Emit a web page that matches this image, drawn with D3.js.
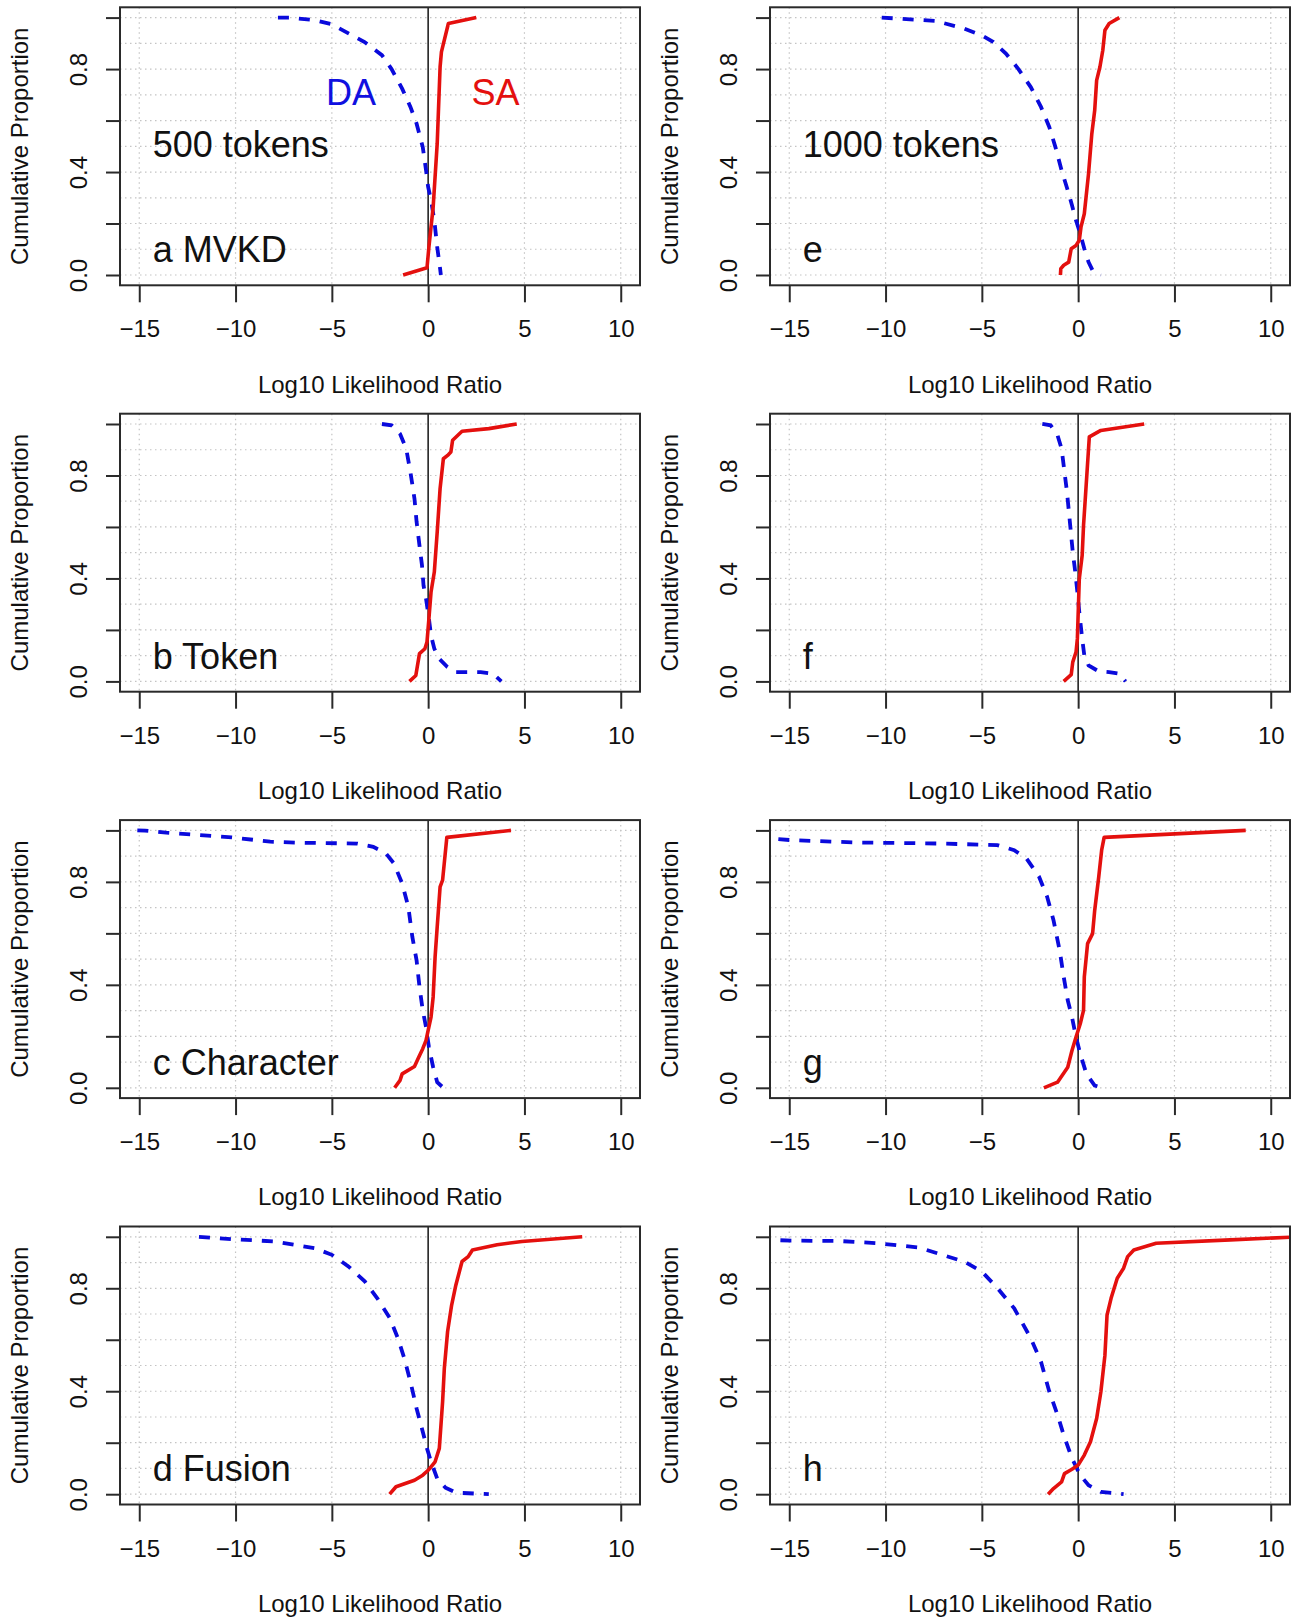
<!DOCTYPE html>
<html>
<head>
<meta charset="utf-8">
<script src="https://cdn.jsdelivr.net/npm/d3@7"></script>
<style>
  body { margin: 0; background: #fff; }
  text { font-family: "Liberation Sans", Arial, Helvetica, sans-serif; fill: #111; }
</style>
</head>
<body>
<svg id="chart" width="1299" height="1620"></svg>
<script>
// axis setup (same for every panel)
const xTicks = [-15, -10, -5, 0, 5, 10];
const yTicks = [0, 0.2, 0.4, 0.6, 0.8, 1.0];
const yTickLabels = ["0.0", "", "0.4", "", "0.8", ""];
const yGrid = [0, 0.1, 0.2, 0.3, 0.4, 0.5, 0.6, 0.7, 0.8, 0.9, 1.0];
const xTitle = "Log10 Likelihood Ratio";
const yTitle = "Cumulative Proportion";

// panel labels, column by column
const panelLabels = ["a MVKD", "b Token", "c Character", "d Fusion", "e", "f", "g", "h"];
const columnTitles = ["500 tokens", "1000 tokens"];

// [log10 LR, cumulative proportion]
// DA = different-author (blue dashed), SA = same-author (red)
const mvkd500DA = [[-7.8,1.0],[-7.2,1.0],[-5.9,0.99],[-5.0,0.974],[-3.3,0.905],[-2.4,0.854],[-1.9,0.8],[-1.35,0.724],[-0.92,0.653],[-0.6,0.588],[-0.28,0.497],[-0.11,0.407],[0,0.342],[0.15,0.29],[0.32,0.212],[0.47,0.109],[0.62,0.025],[0.66,0.0]];
const mvkd500SA = [[-1.3,0.0],[-0.06,0.028],[0.04,0.109],[0.26,0.264],[0.47,0.51],[0.62,0.808],[0.69,0.867],[1.05,0.977],[2.5,1.0]];

const token500DA = [[-2.4,1.0],[-1.9,0.995],[-1.46,0.962],[-1.14,0.904],[-0.92,0.813],[-0.71,0.71],[-0.6,0.62],[-0.45,0.528],[-0.32,0.451],[-0.24,0.373],[-0.11,0.321],[0.04,0.244],[0.15,0.179],[0.32,0.127],[0.58,0.088],[1.0,0.056],[1.44,0.036],[2.73,0.036],[3.37,0.03],[3.8,0.0]];
const token500SA = [[-0.97,0.0],[-0.64,0.023],[-0.45,0.108],[-0.17,0.127],[-0.06,0.153],[0.04,0.244],[0.15,0.347],[0.32,0.425],[0.47,0.58],[0.62,0.749],[0.79,0.865],[1.01,0.878],[1.18,0.891],[1.27,0.937],[1.76,0.972],[3.15,0.982],[4.6,1.0]];

const char500DA = [[-15.1,1.0],[-14.7,0.999],[-13.6,0.991],[-11.9,0.982],[-10.2,0.973],[-8.2,0.956],[-6.7,0.952],[-3.7,0.949],[-2.85,0.936],[-2.2,0.911],[-1.78,0.872],[-1.35,0.794],[-1.03,0.703],[-0.82,0.586],[-0.6,0.495],[-0.45,0.392],[-0.28,0.301],[-0.11,0.236],[0.04,0.158],[0.26,0.08],[0.47,0.022],[0.79,0.0]];
const char500SA = [[-1.74,0.0],[-1.46,0.029],[-1.35,0.054],[-0.71,0.083],[-0.49,0.119],[-0.28,0.152],[-0.11,0.184],[0,0.223],[0.15,0.275],[0.26,0.353],[0.36,0.508],[0.47,0.625],[0.62,0.781],[0.75,0.807],[0.97,0.973],[4.3,1.0]];

const fusion500DA = [[-11.9,1.0],[-10.2,0.991],[-8.0,0.982],[-5.9,0.956],[-5.0,0.93],[-4.14,0.885],[-3.28,0.826],[-2.64,0.761],[-1.99,0.684],[-1.57,0.606],[-1.24,0.528],[-0.92,0.437],[-0.6,0.333],[-0.28,0.243],[-0.06,0.178],[0.15,0.126],[0.47,0.061],[0.9,0.025],[1.44,0.006],[3.15,0.0]];
const fusion500SA = [[-2.0,0.0],[-1.67,0.029],[-0.71,0.054],[-0.28,0.074],[0,0.093],[0.36,0.126],[0.58,0.178],[0.75,0.359],[0.84,0.489],[1.01,0.632],[1.22,0.735],[1.44,0.813],[1.76,0.904],[2.08,0.923],[2.3,0.949],[3.58,0.969],[4.87,0.982],[8.0,1.0]];

const mvkd1000DA = [[-10.2,1.0],[-9.3,0.996],[-8.5,0.992],[-7.4,0.987],[-5.9,0.957],[-5.0,0.931],[-4.4,0.905],[-3.75,0.86],[-3.1,0.8],[-2.46,0.73],[-1.93,0.653],[-1.5,0.575],[-1.18,0.497],[-0.86,0.407],[-0.54,0.329],[-0.32,0.271],[-0.11,0.212],[0.11,0.161],[0.32,0.102],[0.54,0.05],[0.75,0.018],[1.18,0.0]];
const mvkd1000SA = [[-0.92,0.0],[-0.9,0.025],[-0.75,0.038],[-0.49,0.05],[-0.36,0.102],[-0.11,0.115],[0.06,0.135],[0.15,0.187],[0.32,0.238],[0.54,0.394],[0.71,0.549],[0.86,0.64],[0.96,0.756],[1.13,0.808],[1.28,0.873],[1.39,0.951],[1.61,0.977],[2.14,1.0]];

const token1000DA = [[-1.86,1.0],[-1.43,0.995],[-1.07,0.956],[-0.86,0.904],[-0.58,0.736],[-0.43,0.62],[-0.28,0.503],[-0.15,0.425],[-0.04,0.347],[0.06,0.269],[0.21,0.166],[0.32,0.101],[0.54,0.062],[1.07,0.039],[1.61,0.036],[2.14,0.03],[2.46,0.0]];
const token1000SA = [[-0.75,0.0],[-0.36,0.026],[-0.28,0.075],[-0.11,0.114],[-0.04,0.166],[0.06,0.399],[0.21,0.49],[0.28,0.606],[0.58,0.95],[1.18,0.975],[3.43,1.0]];

const char1000DA = [[-21,1.0],[-16,0.969],[-14.9,0.962],[-11.5,0.953],[-7.2,0.949],[-4.2,0.943],[-3.32,0.923],[-2.68,0.891],[-2.03,0.82],[-1.61,0.742],[-1.28,0.651],[-0.96,0.534],[-0.75,0.431],[-0.54,0.34],[-0.32,0.275],[-0.11,0.197],[0.11,0.132],[0.43,0.054],[0.86,0.009],[1.28,0.0]];
const char1000SA = [[-1.78,0.0],[-1.07,0.022],[-0.54,0.08],[-0.32,0.145],[-0.11,0.197],[0.11,0.249],[0.28,0.301],[0.32,0.431],[0.49,0.56],[0.75,0.599],[0.86,0.69],[1.07,0.82],[1.22,0.923],[1.35,0.973],[8.7,1.0]];

const fusion1000DA = [[-22,1.0],[-16,0.988],[-14.9,0.985],[-12.5,0.984],[-10.4,0.975],[-8.25,0.958],[-5.9,0.903],[-5.0,0.865],[-4.18,0.8],[-3.32,0.722],[-2.46,0.606],[-1.93,0.515],[-1.5,0.399],[-1.07,0.308],[-0.75,0.23],[-0.32,0.139],[0.11,0.074],[0.54,0.035],[1.18,0.009],[2.36,0.0]];
const fusion1000SA = [[-1.56,0.0],[-1.28,0.022],[-0.86,0.048],[-0.71,0.08],[-0.32,0.097],[0,0.113],[0.32,0.152],[0.64,0.204],[0.96,0.294],[1.18,0.398],[1.39,0.54],[1.5,0.696],[1.71,0.761],[2.03,0.839],[2.36,0.878],[2.57,0.923],[2.89,0.949],[4.05,0.975],[7.9,0.988],[11.5,1.0]];

const panels = [
  { col: 0, row: 0, label: panelLabels[0], title: columnTitles[0], da: mvkd500DA, sa: mvkd500SA, legend: true },
  { col: 0, row: 1, label: panelLabels[1], da: token500DA, sa: token500SA },
  { col: 0, row: 2, label: panelLabels[2], da: char500DA, sa: char500SA },
  { col: 0, row: 3, label: panelLabels[3], da: fusion500DA, sa: fusion500SA },
  { col: 1, row: 0, label: panelLabels[4], title: columnTitles[1], da: mvkd1000DA, sa: mvkd1000SA },
  { col: 1, row: 1, label: panelLabels[5], da: token1000DA, sa: token1000SA },
  { col: 1, row: 2, label: panelLabels[6], da: char1000DA, sa: char1000SA },
  { col: 1, row: 3, label: panelLabels[7], da: fusion1000DA, sa: fusion1000SA }
];

const svg = d3.select("#chart");
const boxW = 520, boxH = 278;
const axisFont = 24, bigFont = 36;

panels.forEach((p, i) => {
  const left = 120 + 650 * p.col;
  const top = 7.3 + 406.4 * p.row;

  const x = d3.scaleLinear().domain([-16, 11]).range([0, boxW]);
  const y = d3.scaleLinear().domain([-0.04, 1.04]).range([boxH, 0]);

  const g = svg.append("g").attr("transform", `translate(${left},${top})`);

  g.append("clipPath").attr("id", "clip" + i)
    .append("rect").attr("width", boxW).attr("height", boxH);

  // dotted grid
  g.selectAll(".vg").data(xTicks.filter(d => d !== 0)).enter().append("line")
    .attr("x1", d => x(d)).attr("x2", d => x(d))
    .attr("y1", 0).attr("y2", boxH)
    .attr("stroke", "#c4c4c4").attr("stroke-width", 1.2).attr("stroke-dasharray", "1.5,3.5");
  g.selectAll(".hg").data(yGrid).enter().append("line")
    .attr("x1", 0).attr("x2", boxW)
    .attr("y1", d => y(d)).attr("y2", d => y(d))
    .attr("stroke", "#c4c4c4").attr("stroke-width", 1.2).attr("stroke-dasharray", "1.5,3.5");

  // zero line
  g.append("line")
    .attr("x1", x(0)).attr("x2", x(0)).attr("y1", 0).attr("y2", boxH)
    .attr("stroke", "#222").attr("stroke-width", 1.6);

  const line = d3.line().x(d => x(d[0])).y(d => y(d[1]));
  const curves = g.append("g").attr("clip-path", `url(#clip${i})`);

  curves.append("path").datum(p.da)
    .attr("d", line).attr("fill", "none")
    .attr("stroke", "#0a0adc").attr("stroke-width", 3.8)
    .attr("stroke-dasharray", "11,10");

  curves.append("path").datum(p.sa)
    .attr("d", line).attr("fill", "none")
    .attr("stroke", "#e4100e").attr("stroke-width", 3.6)
    .attr("stroke-linejoin", "round");

  // box
  g.append("rect").attr("width", boxW).attr("height", boxH)
    .attr("fill", "none").attr("stroke", "#2a2a2a").attr("stroke-width", 2);

  // x axis
  const xAxis = g.append("g").attr("transform", `translate(0,${boxH})`)
    .call(d3.axisBottom(x).tickValues(xTicks).tickSize(17).tickSizeOuter(0)
      .tickFormat(d => d < 0 ? "\u2212" + Math.abs(d) : d));
  xAxis.select(".domain").remove();
  xAxis.selectAll(".tick line").attr("stroke", "#2a2a2a").attr("stroke-width", 2);
  xAxis.selectAll(".tick text")
    .attr("y", 35).attr("dy", "0.71em")
    .style("font-size", axisFont + "px").style("font-family", null);

  // y axis
  const yAxis = g.append("g")
    .call(d3.axisLeft(y).tickValues(yTicks).tickSize(14).tickSizeOuter(0)
      .tickFormat((d, k) => yTickLabels[k]));
  yAxis.select(".domain").remove();
  yAxis.selectAll(".tick line").attr("stroke", "#2a2a2a").attr("stroke-width", 2);
  yAxis.selectAll(".tick text")
    .attr("x", null)
    .attr("text-anchor", "middle")
    .attr("transform", "translate(-41,0) rotate(-90)")
    .attr("dy", "0.35em")
    .style("font-size", axisFont + "px").style("font-family", null);

  // axis titles
  g.append("text")
    .attr("x", boxW / 2).attr("y", boxH + 99).attr("dy", "0.35em")
    .attr("text-anchor", "middle")
    .style("font-size", axisFont + "px")
    .text(xTitle);
  g.append("text")
    .attr("transform", `translate(-100,${boxH / 2}) rotate(-90)`)
    .attr("dy", "0.35em")
    .attr("text-anchor", "middle")
    .style("font-size", axisFont + "px")
    .text(yTitle);

  // panel text
  g.append("text")
    .attr("x", x(-14.3)).attr("y", y(0.1)).attr("dy", "0.36em")
    .style("font-size", bigFont + "px")
    .text(p.label);
  if (p.title) {
    g.append("text")
      .attr("x", x(-14.3)).attr("y", y(0.51)).attr("dy", "0.36em")
      .style("font-size", bigFont + "px")
      .text(p.title);
  }
  if (p.legend) {
    g.append("text")
      .attr("x", x(-4)).attr("y", y(0.71)).attr("dy", "0.36em")
      .attr("text-anchor", "middle")
      .style("font-size", bigFont + "px").style("fill", "#1010e0")
      .text("DA");
    g.append("text")
      .attr("x", x(3.5)).attr("y", y(0.71)).attr("dy", "0.36em")
      .attr("text-anchor", "middle")
      .style("font-size", bigFont + "px").style("fill", "#e4100e")
      .text("SA");
  }
});
</script>
</body>
</html>
